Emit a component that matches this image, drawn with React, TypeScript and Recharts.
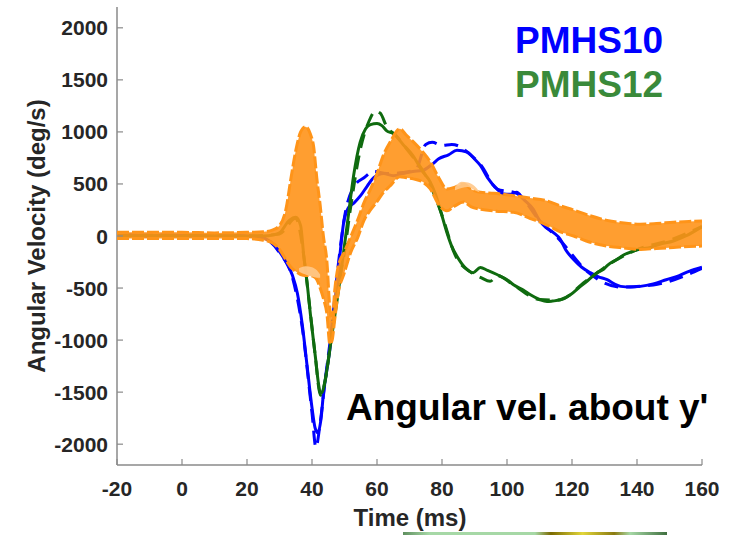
import { ComposedChart, Line, Area, XAxis, YAxis } from "recharts";

// ── Data ─────────────────────────────────────────────────────────────────────

const xTicks = [-20, 0, 20, 40, 60, 80, 100, 120, 140, 160];
const yTicks = [-2000, -1500, -1000, -500, 0, 500, 1000, 1500, 2000];

// PMHS10, solid trace
const pm10T = [-20, -15, -10, -5, 0, 5, 10, 15, 20, 24, 27, 30, 32, 34, 35.5, 37, 38.5, 40, 41, 41.8, 42.8, 43.5, 44.5, 45.6, 46.6, 47.6, 48.7, 49.7, 51, 53, 55, 57, 59, 62, 65, 68, 71, 74, 77, 79, 82, 84.6, 87.7, 90, 91.8, 94, 96.9, 99, 101, 103, 105, 108, 110, 112, 114.3, 116.4, 118, 120.5, 123, 125.6, 128, 130.8, 133, 135, 138, 141, 145, 149, 153, 156, 160];
const pm10V = [0, 12, -5, 15, 5, 10, 0, 8, 0, -10, -50, -150, -250, -380, -550, -850, -1250, -1650, -1850, -1890, -1750, -1520, -1300, -1065, -780, -484, -150, 120, 260, 320, 390, 480, 560, 600, 580, 600, 620, 630, 690, 742, 780, 823, 807, 740, 678, 560, 452, 404, 400, 420, 355, 260, 150, 80, 33, -32, -130, -225, -300, -352, -390, -420, -460, -484, -490, -484, -460, -420, -380, -340, -300];

// PMHS10, dashed trace
const pm10dT = [-20, -10, 0, 10, 20, 25, 30, 34, 37, 40, 41.2, 42.5, 44, 46, 48, 50, 53, 56, 59, 63, 68, 72, 75, 77, 80, 83, 86, 88, 92, 97, 103, 110, 116, 125, 135, 145, 160];
const pm10dV = [5, 10, 0, 5, 0, -15, -160, -400, -880, -1700, -2030, -1800, -1400, -900, -300, 180, 480, 560, 620, 600, 610, 640, 880, 900, 870, 880, 850, 800, 680, 450, 410, 150, -30, -350, -490, -470, -310];

// PMHS12, solid trace
const pm12T = [-20, -10, 0, 10, 20, 25, 28, 30, 33, 35, 36.5, 37.5, 38.5, 39.5, 41, 42, 42.6, 43.4, 44, 45, 45.6, 46.6, 47.6, 48.7, 49.7, 51, 52.8, 54.8, 56.5, 58, 60, 61.5, 63, 65, 68, 71, 74, 76.4, 78, 79.4, 81.5, 83, 84.6, 87, 89.6, 91.8, 94, 96.9, 100, 102, 105, 107.2, 110, 112.3, 114, 116.4, 119.5, 122, 124.6, 127.7, 129.7, 131, 133.8, 136, 138.9, 141, 144.1, 147, 151.2, 155, 160];
const pm12V = [0, 5, 0, 5, 0, 0, 10, 30, 150, 180, 100, -200, -450, -750, -1150, -1420, -1515, -1480, -1390, -1200, -1065, -850, -645, -400, -160, 150, 580, 900, 1030, 1070, 1080, 1060, 1010, 985, 880, 775, 620, 518, 400, 258, 33, -100, -194, -300, -352, -303, -330, -370, -420, -468, -520, -565, -610, -630, -625, -613, -565, -500, -435, -352, -320, -280, -226, -180, -145, -125, -110, -80, -48, 0, 90];

// PMHS12, dashed trace
const pm12dT = [-20, 0, 20, 30, 35, 37.5, 39, 41, 42.6, 44, 46, 48, 50, 52, 55, 57.5, 59.5, 61, 63, 66, 70, 75, 80, 84, 89, 92, 94.8, 97, 102, 110, 116, 124, 132, 140, 150, 160];
const pm12dV = [0, 5, 0, 20, 170, -200, -600, -1150, -1530, -1400, -950, -500, -150, 300, 850, 1100, 1200, 1180, 1050, 960, 800, 580, 200, -180, -350, -400, -435, -380, -470, -610, -615, -440, -260, -130, -40, 90];

// Corridor (lower / upper bound)
const corT = [-20, -10, 0, 10, 20, 25, 28, 30, 32, 33.5, 35, 36.5, 38, 39.5, 40.5, 41.5, 42.5, 43.5, 44.6, 45.5, 46.2, 47, 48, 50, 52, 54, 56, 58, 60, 62, 64, 67, 69, 71.2, 74, 76.4, 79, 81.5, 84, 86.6, 89, 91.8, 96, 102, 107, 112, 116.4, 120.5, 125.6, 130.8, 136, 141, 146, 151.2, 156, 160];
const corLo = [-25, -25, -25, -25, -25, -40, -70, -130, -230, -300, -340, -370, -380, -380, -390, -420, -500, -600, -750, -1040, -1000, -800, -560, -350, -150, -20, 150, 250, 330, 420, 480, 570, 560, 549, 520, 452, 300, 242, 290, 326, 280, 258, 240, 229, 170, 110, 40, 0, -60, -97, -115, -129, -120, -110, -100, -97];
const corHi = [35, 35, 35, 30, 35, 40, 60, 100, 260, 550, 820, 1000, 1050, 980, 860, 550, 300, 0, -250, -700, -820, -520, -300, -150, 0, 150, 320, 450, 600, 780, 900, 1030, 970, 904, 810, 713, 560, 452, 470, 500, 450, 420, 410, 387, 365, 340, 290, 250, 194, 150, 125, 113, 120, 132, 140, 145];

// Lighter patches of the corridor
const patchAT = [36, 38, 40, 41.5, 42.5];
const patchALo = [-340, -370, -390, -400, -400];
const patchAHi = [-310, -290, -300, -330, -370];
const patchBT = [84, 86, 88, 90, 91.5];
const patchBLo = [440, 460, 470, 440, 420];
const patchBHi = [470, 520, 515, 480, 425];

const toSeries = (t: number[], v: number[]) => t.map((x, i) => ({ t: x, v: v[i] }));
const toRange = (t: number[], lo: number[], hi: number[]) => t.map((x, i) => ({ t: x, r: [lo[i], hi[i]] }));

// ── Styling ──────────────────────────────────────────────────────────────────

const FONT = "'Liberation Sans', Arial, sans-serif";
const AXIS = "#8a8a8a";
const INK = "#262626";
const BLUE = "#0000ff";
const GREEN = "#0f6b0f";
const ORANGE = "#ff9419";

function XTick({ x, y, payload }: any) {
  return (
    <g>
      <line x1={x} y1={y} x2={x} y2={y - 6} stroke={AXIS} strokeWidth={1.2} />
      <text x={x} y={y + 31} textAnchor="middle" fontFamily={FONT} fontWeight="bold" fontSize={21} fill={INK}>
        {payload.value}
      </text>
    </g>
  );
}

function YTick({ x, y, payload }: any) {
  return (
    <g>
      <line x1={x} y1={y} x2={x + 6} y2={y} stroke={AXIS} strokeWidth={1.2} />
      <text x={x - 9} y={y + 7.5} textAnchor="end" fontFamily={FONT} fontWeight="bold" fontSize={21} fill={INK}>
        {payload.value}
      </text>
    </g>
  );
}

export default function App() {
  return (
    <div style={{ position: "absolute", left: 0, top: 0, width: 740, height: 535, background: "#fff" }}>
      <ComposedChart width={740} height={535} margin={{ top: 7, right: 38, bottom: 40, left: 0 }}>
        <XAxis
          type="number"
          dataKey="t"
          domain={[-20, 160]}
          ticks={xTicks}
          allowDataOverflow
          height={30}
          tickSize={0}
          tickMargin={0}
          tick={<XTick />}
          stroke={AXIS}
          strokeWidth={1.5}
        />
        <YAxis
          type="number"
          width={117}
          domain={[-2200, 2200]}
          ticks={yTicks}
          allowDataOverflow
          tickSize={0}
          tickMargin={0}
          tick={<YTick />}
          stroke={AXIS}
          strokeWidth={1.5}
        />
        <Line data={toSeries(pm10dT, pm10dV)} dataKey="v" type="monotone" stroke={BLUE} strokeWidth={3} strokeDasharray="14 8" dot={false} isAnimationActive={false} />
        <Line data={toSeries(pm10T, pm10V)} dataKey="v" type="monotone" stroke={BLUE} strokeWidth={3} dot={false} isAnimationActive={false} />
        <Line data={toSeries(pm12dT, pm12dV)} dataKey="v" type="monotone" stroke={GREEN} strokeWidth={3} strokeDasharray="14 8" dot={false} isAnimationActive={false} />
        <Line data={toSeries(pm12T, pm12V)} dataKey="v" type="monotone" stroke={GREEN} strokeWidth={3} dot={false} isAnimationActive={false} />
        <Area zIndex={900} data={toRange(corT, corLo, corHi)} dataKey="r" type="monotone" fill={ORANGE} fillOpacity={0.9} stroke={ORANGE} strokeWidth={3} strokeDasharray="12 3" isAnimationActive={false} />
        <Area zIndex={901} data={toRange(patchAT, patchALo, patchAHi)} dataKey="r" type="monotone" fill="#ffc88a" fillOpacity={0.9} stroke="none" isAnimationActive={false} />
        <Area zIndex={901} data={toRange(patchBT, patchBLo, patchBHi)} dataKey="r" type="monotone" fill="#ffc88a" fillOpacity={0.9} stroke="none" isAnimationActive={false} />
      </ComposedChart>

      <svg width={740} height={535} style={{ position: "absolute", left: 0, top: 0, pointerEvents: "none" }}>
        <defs>
          <linearGradient id="strip" x1="0" x2="1" y1="0" y2="0">
            <stop offset="0" stopColor="#5f8f5f" />
            <stop offset="0.1" stopColor="#a6d8a6" />
            <stop offset="0.5" stopColor="#a6d8a6" />
            <stop offset="0.56" stopColor="#7a6a00" />
            <stop offset="0.68" stopColor="#e2d63a" />
            <stop offset="0.8" stopColor="#8a7a10" />
            <stop offset="0.86" stopColor="#a6d8a6" />
            <stop offset="1" stopColor="#3f6f3f" />
          </linearGradient>
        </defs>
        <rect x={403} y={532} width={264} height={3} fill="url(#strip)" />
        <text x={515} y={53} fontFamily={FONT} fontWeight="bold" fontSize={37} fill={BLUE}>PMHS10</text>
        <text x={515} y={97} fontFamily={FONT} fontWeight="bold" fontSize={37} fill="#3a8a3a">PMHS12</text>
        <text x={346} y={420} fontFamily={FONT} fontWeight="bold" fontSize={37} fill="#000">Angular vel. about y'</text>
        <text x={410} y={526} textAnchor="middle" fontFamily={FONT} fontWeight="bold" fontSize={24} fill={INK}>Time (ms)</text>
        <text transform="translate(45,236) rotate(-90)" textAnchor="middle" fontFamily={FONT} fontWeight="bold" fontSize={24} fill={INK}>
          Angular Velocity (deg/s)
        </text>
      </svg>
    </div>
  );
}
